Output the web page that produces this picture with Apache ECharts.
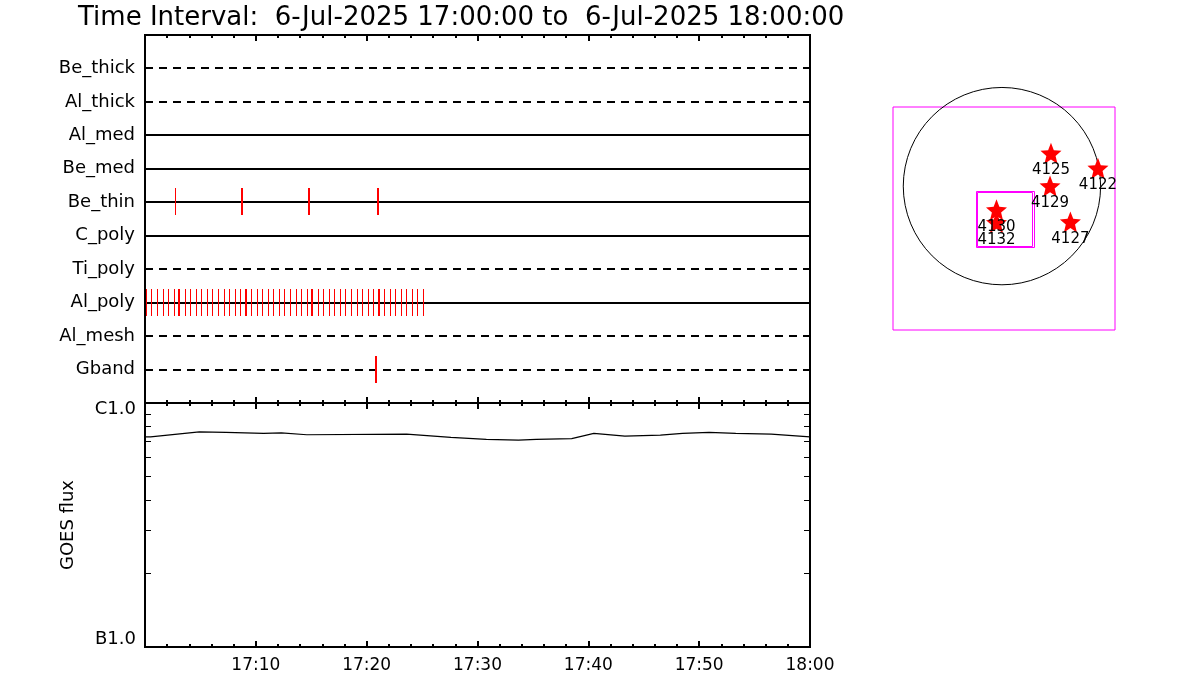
<!DOCTYPE html>
<html>
<head>
<meta charset="utf-8">
<script src="https://cdn.jsdelivr.net/npm/echarts@6/dist/echarts.min.js"></script>
<style>
html, body { margin: 0; padding: 0; background: #fff; }
#chart { width: 1200px; height: 700px; }
</style>
</head>
<body>
<div id="chart"></div>
<script>
const FONT = 'DejaVu Sans'

// filter rows, top to bottom
const filters = ['Be_thick', 'Al_thick', 'Al_med', 'Be_med', 'Be_thin', 'C_poly', 'Ti_poly', 'Al_poly', 'Al_mesh', 'Gband']
const dashedFilters = ['Be_thick', 'Al_thick', 'Ti_poly', 'Al_mesh', 'Gband']

// exposures: [time, number of overlapping exposures]
const beThinExp = [['17:02:44', 1], ['17:08:44', 2], ['17:14:48', 2], ['17:21:01', 2]]
const alPolyExp = [
  ['17:00:05', 1], ['17:00:35', 1], ['17:01:05', 1], ['17:01:35', 1], ['17:02:05', 1], ['17:02:35', 1],
  ['17:03:05', 2], ['17:03:35', 1], ['17:04:05', 1], ['17:04:35', 1], ['17:05:05', 1], ['17:05:35', 1],
  ['17:06:05', 1], ['17:06:35', 1], ['17:07:05', 1], ['17:07:35', 1], ['17:08:05', 1], ['17:08:35', 1],
  ['17:09:05', 2], ['17:09:35', 1], ['17:10:05', 1], ['17:10:35', 1], ['17:11:05', 1], ['17:11:35', 1],
  ['17:12:05', 1], ['17:12:35', 1], ['17:13:05', 1], ['17:13:35', 1], ['17:14:05', 1], ['17:14:35', 1],
  ['17:15:05', 2], ['17:15:35', 1], ['17:16:05', 1], ['17:16:35', 1], ['17:17:05', 1], ['17:17:35', 1],
  ['17:18:05', 1], ['17:18:35', 1], ['17:19:05', 1], ['17:19:35', 1], ['17:20:05', 1], ['17:20:35', 1],
  ['17:21:08', 2], ['17:21:35', 1], ['17:22:05', 1], ['17:22:35', 1], ['17:23:05', 1], ['17:23:35', 1],
  ['17:24:05', 1], ['17:24:35', 1], ['17:25:05', 1]
]
const gbandExp = [['17:20:49', 2]]

// GOES 1-8 A flux (W/m^2)
const goesTimes = ['17:00:00', '17:00:30', '17:04:54', '17:07:18', '17:10:42', '17:12:18', '17:14:36', '17:23:36',
  '17:27:36', '17:30:48', '17:33:42', '17:35:18', '17:38:30', '17:40:30', '17:43:18', '17:46:30', '17:48:30',
  '17:50:54', '17:53:18', '17:56:30', '18:00:00']
const goesFlux = [7.27e-7, 7.27e-7, 7.62e-7, 7.58e-7, 7.51e-7, 7.54e-7, 7.41e-7, 7.46e-7,
  7.23e-7, 7.10e-7, 7.04e-7, 7.10e-7, 7.14e-7, 7.51e-7, 7.32e-7, 7.39e-7, 7.51e-7,
  7.58e-7, 7.51e-7, 7.46e-7, 7.27e-7]
const goesMinorTicks = [2e-7, 3e-7, 4e-7, 5e-7, 6e-7, 7e-7, 8e-7, 9e-7]

// active regions on the disk (arcsec)
const arNames = ['4125', '4122', '4129', '4127', '4130', '4132']
const arX = [477, 934, 468, 666, -53, -53]
const arY = [320, 174, 2, -348, -231, -355]
const fovBoxes = [[-255, -47, 309, -594], [-241, -56, 297, -582]]

const toMin = s => {
  const p = s.split(':').map(Number)
  return (p[0] - 17) * 60 + p[1] + p[2] / 60
}

let tickData = []
;[['Be_thin', beThinExp], ['Al_poly', alPolyExp], ['Gband', gbandExp]].forEach(([f, list]) => {
  const row = filters.indexOf(f) + 1
  list.forEach(e => tickData.push([toMin(e[0]), row, e[1]]))
})

const STAR = 'path://M50,2 L62.9,34.2 L97.6,36.6 L70.9,58.8 L79.4,92.5 L50,74 L20.6,92.5 L29.1,58.8 L2.4,36.6 L37.1,34.2 Z'

const timeAxis = (grid, pos, labels) => ({
  gridIndex: grid,
  type: 'value',
  position: pos,
  min: 0,
  max: 60,
  interval: 10,
  axisLine: { show: false, onZero: false },
  axisTick: { inside: true, length: 6, lineStyle: { color: '#000', width: 2 } },
  minorTick: { show: true, splitNumber: 5, length: 3, lineStyle: { color: '#000', width: 2 } },
  splitLine: { show: false },
  axisLabel: {
    show: labels,
    margin: 10,
    color: '#000',
    fontFamily: FONT,
    fontSize: 17,
    formatter: v => v === 0 ? '' : (v === 60 ? '18:00' : '17:' + String(v).padStart(2, '0'))
  }
})

const chart = echarts.init(document.getElementById('chart'))
chart.setOption({
  animation: false,
  backgroundColor: '#fff',
  title: {
    text: 'Time Interval:  6-Jul-2025 17:00:00 to  6-Jul-2025 18:00:00',
    left: 73,
    top: 0,
    textStyle: { fontFamily: FONT, fontSize: 26, fontWeight: 'normal', color: '#000' }
  },
  grid: [
    { left: 145, top: 35, width: 665, height: 368, show: true, borderColor: '#000', borderWidth: 2 },
    { left: 145, top: 403, width: 665, height: 244, show: true, borderColor: '#000', borderWidth: 2 },
    { left: 893, top: 107, width: 222, height: 223, show: true, borderColor: '#ff00ff', borderWidth: 1 }
  ],
  xAxis: [
    timeAxis(0, 'bottom', false),
    timeAxis(0, 'top', false),
    timeAxis(1, 'bottom', true),
    timeAxis(1, 'top', false),
    { gridIndex: 2, type: 'value', min: -1060, max: 1100, show: false }
  ],
  yAxis: [
    {
      gridIndex: 0,
      type: 'value',
      min: 0,
      max: 11,
      interval: 1,
      inverse: true,
      axisLine: { show: false, onZero: false },
      axisTick: { show: false },
      splitLine: { show: false },
      axisLabel: {
        margin: 10,
        color: '#000',
        fontFamily: FONT,
        fontSize: 18,
        formatter: v => filters[v - 1] || ''
      }
    },
    {
      gridIndex: 1,
      type: 'log',
      position: 'left',
      min: 1e-7,
      max: 1e-6,
      name: 'GOES flux',
      nameLocation: 'middle',
      nameGap: 68,
      nameTextStyle: { color: '#000', fontFamily: FONT, fontSize: 18 },
      axisLine: { show: false, onZero: false },
      axisTick: { inside: true, length: 6, customValues: goesMinorTicks, lineStyle: { color: '#000', width: 1 } },
      splitLine: { show: false },
      axisLabel: {
        customValues: [1e-7, 1e-6],
        margin: 9,
        formatter: v => v > 5e-7 ? '{t|C1.0}' : '{b|B1.0}',
        rich: {
          t: { color: '#000', fontFamily: FONT, fontSize: 18, padding: [12, 0, 0, 0] },
          b: { color: '#000', fontFamily: FONT, fontSize: 18, padding: [0, 0, 16, 0] }
        }
      }
    },
    {
      gridIndex: 1,
      type: 'log',
      position: 'right',
      min: 1e-7,
      max: 1e-6,
      axisLine: { show: false, onZero: false },
      axisTick: { inside: true, length: 6, customValues: goesMinorTicks, lineStyle: { color: '#000', width: 1 } },
      splitLine: { show: false },
      axisLabel: { show: false }
    },
    { gridIndex: 2, type: 'value', min: -1400, max: 770, show: false }
  ],
  series: [
    {
      type: 'custom',
      name: 'rows',
      xAxisIndex: 0,
      yAxisIndex: 0,
      encode: { x: 0, y: 1 },
      data: filters.map((f, i) => [0, i + 1]),
      renderItem: (params, api) => {
        const row = api.value(1)
        const a = api.coord([0, row])
        const b = api.coord([60, row])
        const y = Math.round(a[1])
        return {
          type: 'line',
          shape: { x1: a[0], y1: y, x2: b[0], y2: y },
          style: { stroke: '#000', lineWidth: 2, lineDash: dashedFilters.includes(filters[row - 1]) ? [8, 6] : null }
        }
      },
      z: 2
    },
    {
      type: 'custom',
      name: 'exposures',
      xAxisIndex: 0,
      yAxisIndex: 0,
      encode: { x: 0, y: 1 },
      data: tickData,
      renderItem: (params, api) => {
        const p = api.coord([api.value(0), api.value(1)])
        const w = api.value(2)
        const x = w % 2 ? Math.round(p[0]) + 0.5 : Math.round(p[0])
        const y = Math.round(p[1])
        return {
          type: 'line',
          shape: { x1: x, y1: y - 14, x2: x, y2: y + 13 },
          style: { stroke: '#ff0000', lineWidth: w, opacity: 1 }
        }
      },
      z: 3
    },
    {
      type: 'line',
      name: 'GOES',
      xAxisIndex: 2,
      yAxisIndex: 1,
      data: goesTimes.map((t, i) => [toMin(t), goesFlux[i]]),
      symbol: 'none',
      lineStyle: { color: '#000', width: 1.2 }
    },
    {
      type: 'custom',
      name: 'limb',
      xAxisIndex: 4,
      yAxisIndex: 3,
      encode: { x: 0, y: 1 },
      data: [[0, 0, 960]],
      renderItem: (params, api) => {
        const c = api.coord([0, 0])
        const r = api.size([api.value(2), 0])[0]
        return { type: 'circle', shape: { cx: c[0], cy: c[1], r }, style: { stroke: '#000', fill: 'none', lineWidth: 1 } }
      }
    },
    {
      type: 'custom',
      name: 'fov',
      xAxisIndex: 4,
      yAxisIndex: 3,
      encode: { x: [0, 2], y: [1, 3] },
      data: fovBoxes,
      renderItem: (params, api) => {
        const a = api.coord([api.value(0), api.value(1)])
        const b = api.coord([api.value(2), api.value(3)])
        return {
          type: 'rect',
          shape: { x: Math.round(a[0]) + 0.5, y: Math.round(a[1]) + 0.5, width: Math.round(b[0] - a[0]), height: Math.round(b[1] - a[1]) },
          style: { stroke: '#ff00ff', fill: 'none', lineWidth: 1 }
        }
      },
      z: 3
    },
    {
      type: 'scatter',
      name: 'AR',
      xAxisIndex: 4,
      yAxisIndex: 3,
      symbol: STAR,
      symbolSize: 21,
      itemStyle: { color: '#ff0000', opacity: 1 },
      data: arNames.map((n, i) => ({ name: n, value: [arX[i], arY[i]] })),
      label: {
        show: true,
        position: 'bottom',
        distance: -1,
        formatter: '{b}',
        color: '#000',
        fontFamily: FONT,
        fontSize: 15
      },
      z: 4
    }
  ]
})
</script>
</body>
</html>
